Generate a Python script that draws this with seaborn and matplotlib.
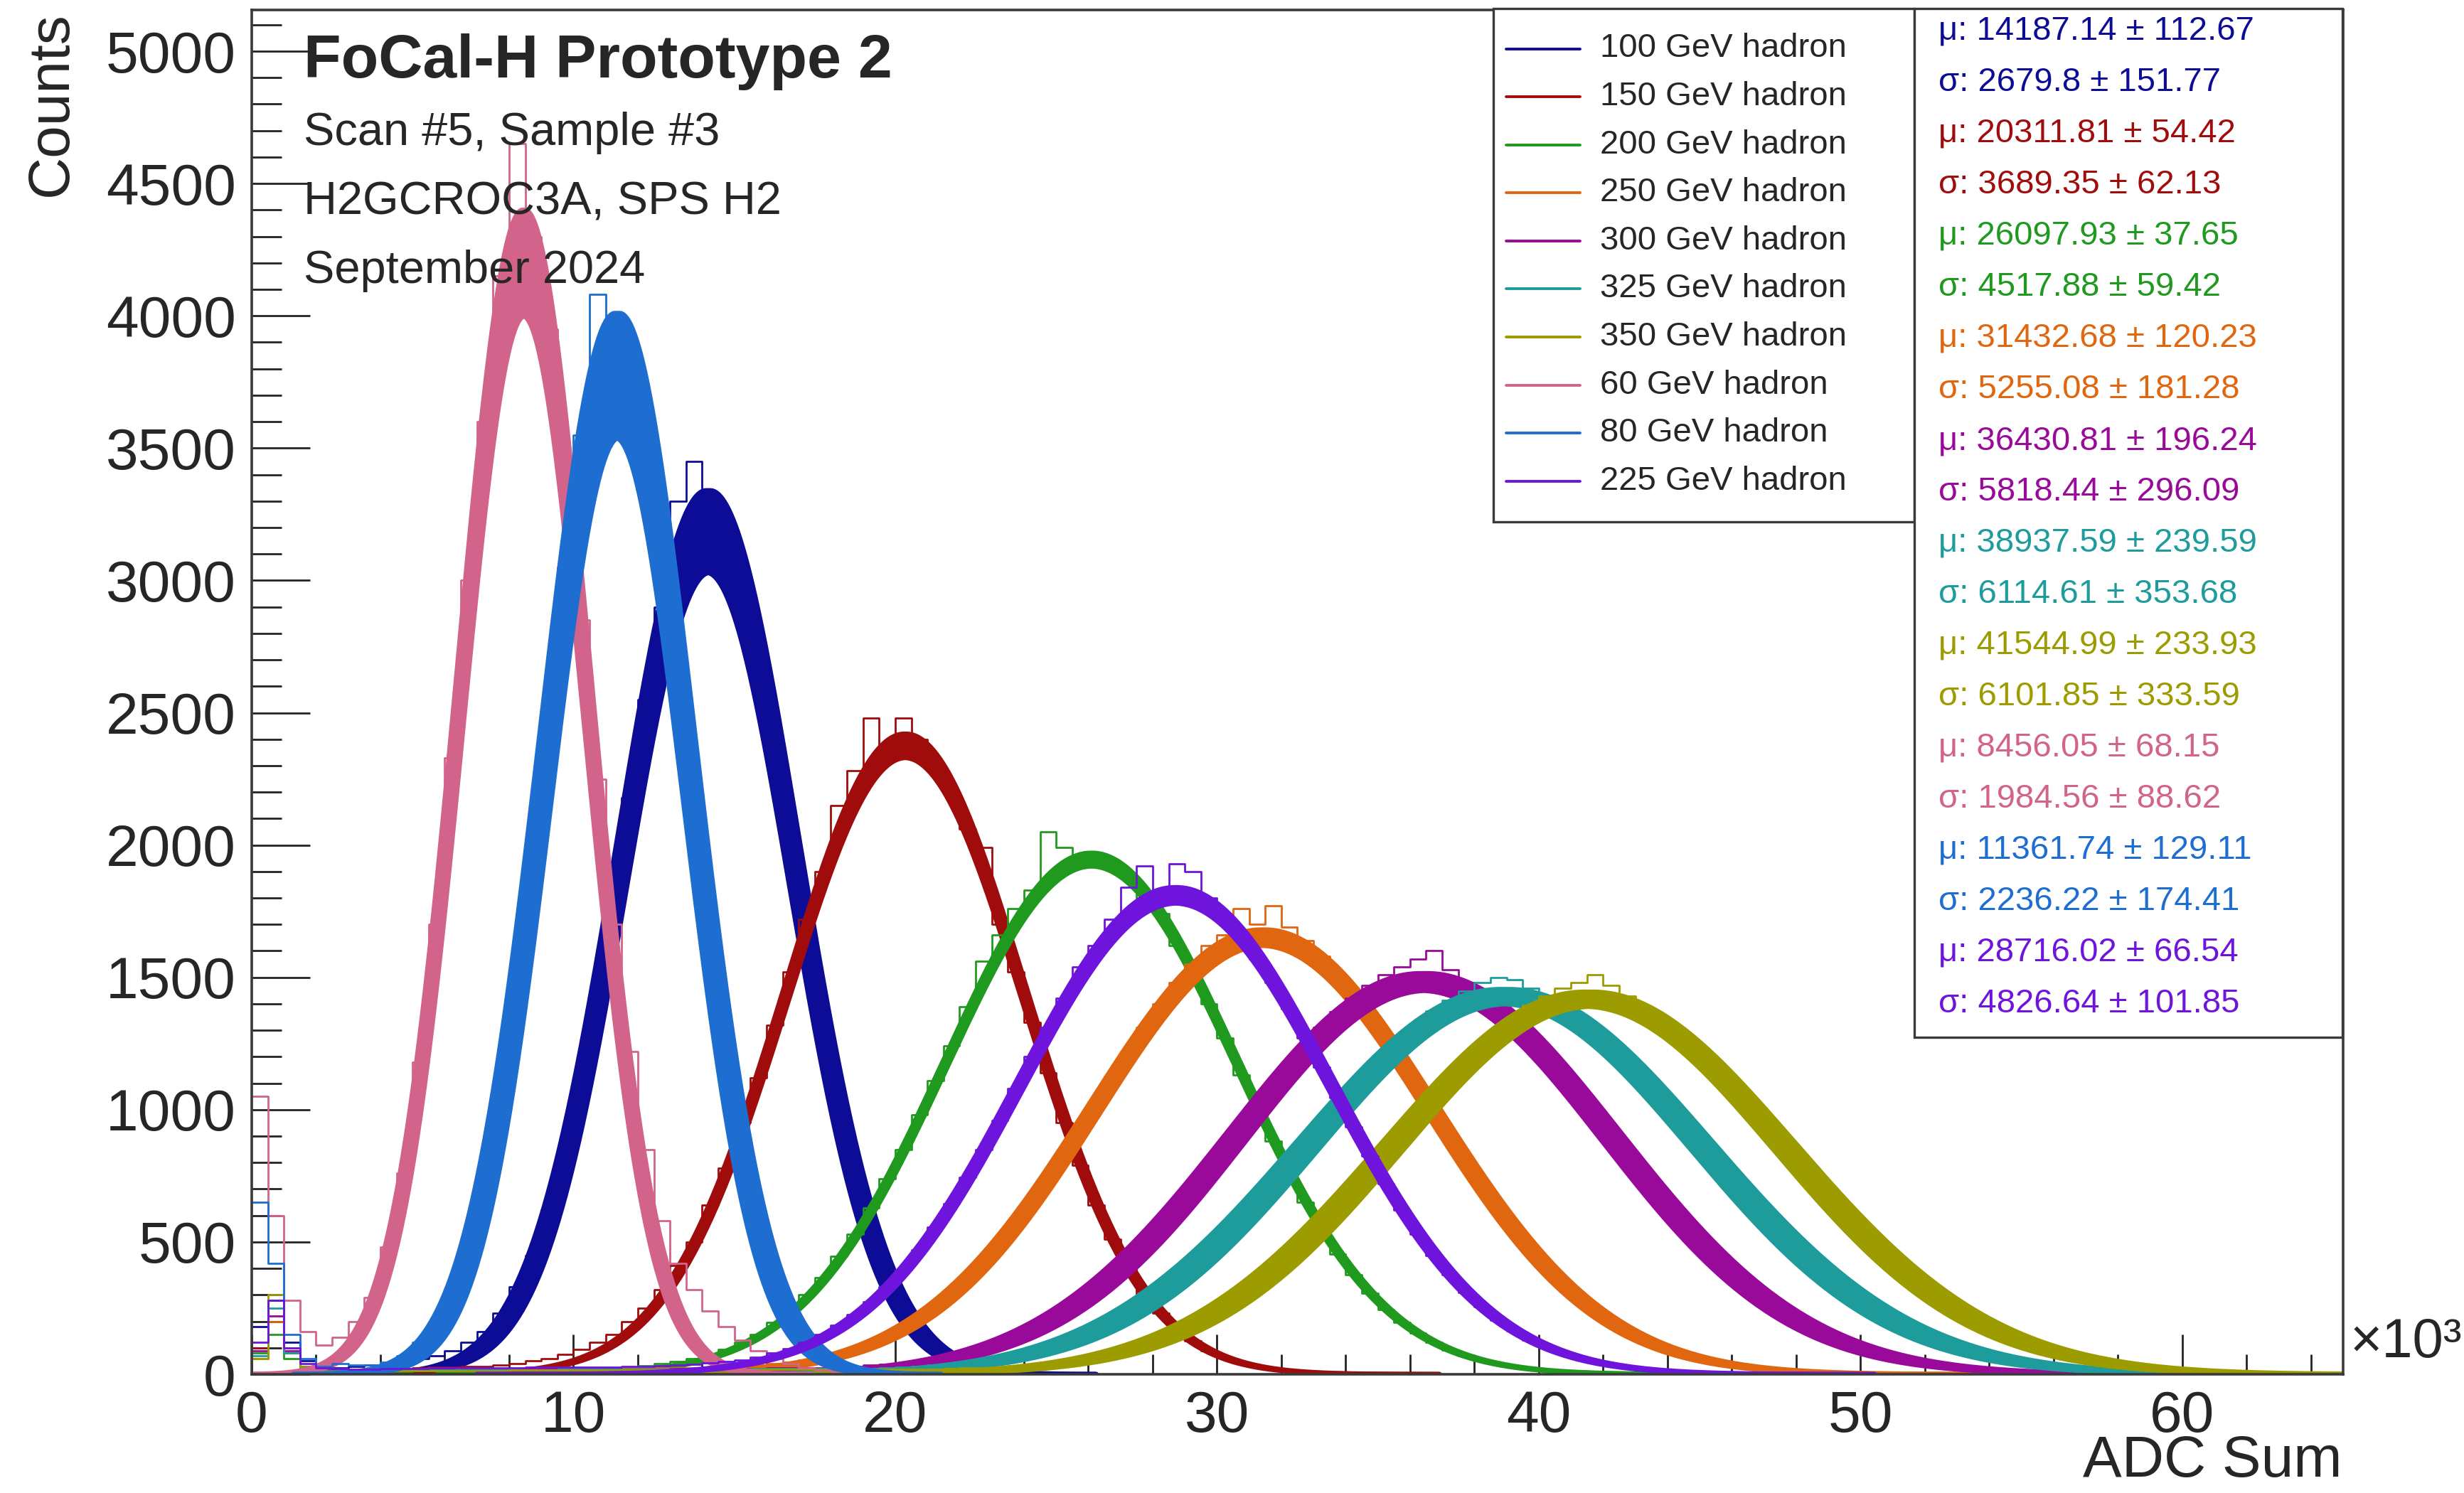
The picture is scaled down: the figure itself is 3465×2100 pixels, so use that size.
import numpy as np
import pandas as pd
import matplotlib
matplotlib.use("Agg")
import matplotlib.pyplot as plt
import seaborn as sns
from matplotlib.ticker import MultipleLocator, FuncFormatter
from matplotlib.lines import Line2D
from matplotlib.patches import Rectangle

# ---------------------------------------------------------------- data
BIN_WIDTH = 500.0
N_BINS = 130  # 0 .. 65000 ADC

labels = ["100 GeV hadron", "150 GeV hadron", "200 GeV hadron", "250 GeV hadron",
          "300 GeV hadron", "325 GeV hadron", "350 GeV hadron", "60 GeV hadron",
          "80 GeV hadron", "225 GeV hadron"]
colors = ["#0c0c96", "#a00c0c", "#1f9a1f", "#e0660f", "#9a0a9a",
          "#1e9c9c", "#9c9c00", "#d2648c", "#1e6ed2", "#6e14dc"]

mu = [14187.14, 20311.81, 26097.93, 31432.68, 36430.81,
      38937.59, 41544.99, 8456.05, 11361.74, 28716.02]
mu_err = [112.67, 54.42, 37.65, 120.23, 196.24,
          239.59, 233.93, 68.15, 129.11, 66.54]
sigma = [2679.8, 3689.35, 4517.88, 5255.08, 5818.44,
         6114.61, 6101.85, 1984.56, 2236.22, 4826.64]
sigma_err = [151.77, 62.13, 59.42, 181.28, 296.09,
             353.68, 333.59, 88.62, 174.41, 101.85]
# spread of the fitted peak heights (counts)
amp_low = [3030, 2330, 1920, 1620, 1450, 1400, 1390, 4000, 3540, 1780]
amp_high = [3340, 2420, 1970, 1680, 1515, 1455, 1445, 4400, 4010, 1840]

# histogram contents, 500-ADC bins starting at 0
h100 = [180, 280, 120, 50, 25, 25, 30, 35, 40, 50, 60, 70, 90, 120, 160, 230, 330, 450,
        620, 850, 1120, 1440, 1800, 2180, 2550, 2900, 3300, 3450, 3200, 3100, 2900, 2640,
        2330, 1990, 1620, 1280, 980, 730, 520, 360, 240, 150, 100, 60, 35, 20, 11, 6, 3]
h150 = [100, 200, 80, 30, 18, 15, 16, 18, 20, 22, 24, 26, 28, 30, 30, 35, 40, 50, 60, 75,
        95, 120, 150, 200, 250, 320, 410, 500, 640, 780, 950, 1120, 1320, 1520, 1720, 1900,
        2150, 2280, 2480, 2330, 2480, 2400, 2310, 2200, 2060, 1990, 1700, 1520, 1330, 1140,
        950, 790, 640, 510, 400, 300, 230, 170, 125, 90, 62, 44, 30, 20, 13, 8, 5, 3]
h200 = [80, 150, 60, 20, 12, 10, 10, 11, 12, 12, 13, 14, 14, 15, 15, 16, 17, 17, 18, 19,
        20, 22, 25, 28, 32, 40, 48, 60, 75, 95, 120, 150, 195, 240, 300, 365, 445, 530,
        630, 740, 850, 980, 1110, 1240, 1390, 1560, 1660, 1760, 1830, 2050, 1990, 1960,
        1950, 1920, 1880, 1800, 1740, 1620, 1520, 1400, 1270, 1130, 1010, 880, 760, 650,
        550, 455, 375, 305, 245, 195, 155, 120, 92, 70, 52, 38, 28, 20, 14, 10, 7, 5, 3]
h250 = [60, 200, 80, 30, 15, 14, 14, 15, 15, 16, 16, 17, 17, 18, 18, 19, 19, 20, 20, 21,
        21, 22, 22, 23, 23, 24, 24, 24, 25, 28, 30, 35, 40, 45, 55, 65, 80, 98, 120, 145,
        178, 215, 258, 308, 365, 430, 500, 575, 660, 745, 840, 935, 1030, 1125, 1220, 1310,
        1400, 1480, 1550, 1620, 1660, 1760, 1700, 1770, 1690, 1640, 1580, 1500, 1430, 1350,
        1265, 1175, 1080, 985, 890, 800, 710, 625, 545, 470, 400, 340, 285, 238, 196, 160,
        135, 110, 90, 72, 58, 45, 35, 27, 20, 14, 10, 7, 5, 3]
h300 = [90, 220, 90, 30, 15, 14, 14, 14, 15, 15, 15, 16, 16, 16, 17, 17, 17, 18, 18, 18,
        19, 19, 19, 20, 20, 20, 21, 21, 21, 22, 22, 22, 23, 23, 24, 25, 27, 30, 34, 38, 44,
        50, 60, 72, 85, 102, 122, 145, 172, 205, 240, 282, 328, 380, 435, 497, 562, 630,
        703, 778, 858, 936, 1015, 1092, 1170, 1240, 1310, 1370, 1420, 1470, 1510, 1540,
        1570, 1600, 1530, 1480, 1430, 1385, 1330, 1268, 1200, 1128, 1052, 975, 898, 822,
        745, 670, 598, 530, 468, 410, 355, 306, 262, 222, 188, 158, 132, 110, 90, 74, 60,
        48, 38, 30, 24, 18, 14, 10, 8, 6, 4, 3]
h325 = [70, 250, 80, 25, 14, 14, 14, 15, 15, 15, 15, 16, 16, 16, 16, 17, 17, 17, 17, 18,
        18, 18, 18, 19, 19, 19, 19, 20, 20, 20, 20, 21, 21, 21, 21, 22, 22, 22, 22, 24, 27,
        30, 34, 38, 44, 52, 62, 74, 88, 105, 125, 148, 174, 204, 238, 276, 318, 365, 418,
        472, 532, 595, 662, 730, 800, 872, 945, 1016, 1085, 1152, 1215, 1272, 1325, 1372,
        1412, 1448, 1480, 1500, 1490, 1460, 1420, 1385, 1345, 1300, 1245, 1185, 1120, 1052,
        982, 912, 840, 769, 699, 633, 567, 506, 448, 395, 345, 300, 258, 221, 188, 160,
        135, 112, 94, 78, 64, 52, 42, 34, 27, 21, 16, 12, 9, 7, 5, 4, 3]
h350 = [60, 300, 100, 30, 12, 12, 12, 12, 13, 13, 13, 13, 14, 14, 14, 14, 15, 15, 15, 15,
        16, 16, 16, 16, 17, 17, 17, 17, 18, 18, 18, 18, 19, 19, 19, 19, 20, 20, 20, 20, 20,
        20, 20, 21, 23, 25, 28, 31, 35, 41, 48, 58, 69, 83, 99, 118, 140, 165, 194, 227,
        264, 305, 350, 400, 454, 512, 573, 638, 705, 776, 846, 918, 990, 1060, 1126, 1190,
        1250, 1305, 1352, 1395, 1430, 1460, 1480, 1510, 1470, 1430, 1390, 1348, 1300, 1248,
        1190, 1128, 1062, 993, 922, 850, 779, 709, 642, 576, 514, 456, 402, 352, 306, 264,
        226, 193, 163, 138, 115, 95, 79, 65, 53, 43, 34, 27, 21, 17, 13, 10, 8, 6, 4, 3,
        2, 2, 1, 1]
h060 = [1050, 600, 280, 160, 110, 140, 200, 290, 480, 760, 1180, 1700, 2330, 3000, 3600,
        4150, 4650, 4300, 3950, 3450, 2850, 2250, 1700, 1220, 850, 580, 420, 320, 240,
        180, 130, 90, 60, 40, 25, 15, 10, 6, 4, 2]
h080 = [650, 420, 150, 60, 30, 40, 35, 35, 45, 70, 120, 190, 300, 470, 720, 1060, 1480,
        1980, 2520, 3050, 3550, 4080, 3950, 3800, 3550, 3150, 2650, 2150, 1650, 1180, 820,
        540, 350, 210, 120, 70, 40, 20, 12, 8, 5, 3]
h225 = [120, 280, 100, 40, 25, 22, 20, 20, 21, 22, 22, 23, 23, 24, 24, 25, 25, 26, 26, 27,
        27, 28, 28, 29, 30, 32, 35, 38, 42, 48, 55, 65, 80, 98, 120, 150, 185, 225, 275,
        330, 395, 470, 555, 645, 745, 850, 960, 1080, 1200, 1310, 1420, 1540, 1620, 1720,
        1840, 1920, 1820, 1930, 1900, 1800, 1730, 1660, 1570, 1480, 1380, 1270, 1160, 1045,
        935, 825, 720, 620, 530, 450, 375, 310, 255, 205, 165, 130, 102, 80, 62, 47, 36,
        27, 20, 14, 10, 7, 5, 3]

hists = [h100, h150, h200, h250, h300, h325, h350, h060, h080, h225]

# ---------------------------------------------------------------- style
sns.set_theme(style="ticks")
plt.rcParams["font.family"] = ["Liberation Sans", "DejaVu Sans"]
plt.rcParams["axes.linewidth"] = 1.3
plt.rcParams["axes.edgecolor"] = "#3a3a3a"

W, H = 3466, 2100
DPI = 200
fig = plt.figure(figsize=(W / DPI, H / DPI), dpi=DPI)
fig.patch.set_facecolor("white")

x0, x1, y0, y1 = 354, 3295, 14, 1933          # frame in pixels
ax = fig.add_axes([x0 / W, 1 - y1 / H, (x1 - x0) / W, (y1 - y0) / H])
ax.set_facecolor("white")

edges = np.arange(N_BINS + 1) * BIN_WIDTH
centers = edges[:-1] + BIN_WIDTH / 2
SPREAD = 0.55   # fraction of the parameter errors shown by the fit band


def gauss(x, a, m, s):
    return a * np.exp(-0.5 * ((x - m) / s) ** 2)


for i, lab in enumerate(labels):
    col = colors[i]
    counts = np.zeros(N_BINS)
    counts[:len(hists[i])] = hists[i]
    df = pd.DataFrame({"adc": centers, "n": counts})
    sns.histplot(data=df, x="adc", weights="n", binwidth=BIN_WIDTH,
                 binrange=(0, N_BINS * BIN_WIDTH), element="step",
                 fill=False, color=col, linewidth=1.0, ax=ax, zorder=2)

    # band of fitted gaussians
    lo_x = max(0.0, mu[i] - 4.5 * sigma[i])
    hi_x = min(65000.0, mu[i] + 4.5 * sigma[i])
    xs = np.linspace(lo_x, hi_x, 700)
    dm = SPREAD * mu_err[i]
    ds = SPREAD * sigma_err[i]
    curves = []
    for a in np.linspace(amp_low[i], amp_high[i], 3):
        for m in np.linspace(mu[i] - dm, mu[i] + dm, 5):
            for s in np.linspace(sigma[i] - ds, sigma[i] + ds, 5):
                curves.append(gauss(xs, a, m, s))
    curves = np.array(curves)
    upper = curves.max(axis=0)
    lower = curves.min(axis=0)
    ax.fill_between(xs, lower, upper, color=col, lw=0, zorder=2)
    sns.lineplot(x=xs, y=upper, color=col, lw=2.4, ax=ax, zorder=2, sort=False)
    sns.lineplot(x=xs, y=lower, color=col, lw=2.4, ax=ax, zorder=2, sort=False)

ax.set_xlim(0, 65000)
ax.set_ylim(0, 5156)
ax.set_xlabel("")
ax.set_ylabel("")
for sp in ax.spines.values():
    sp.set_visible(True)
    sp.set_color("#3a3a3a")

ax.xaxis.set_major_locator(MultipleLocator(10000))
ax.xaxis.set_minor_locator(MultipleLocator(2000))
ax.yaxis.set_major_locator(MultipleLocator(500))
ax.yaxis.set_minor_locator(MultipleLocator(100))
ax.xaxis.set_major_formatter(FuncFormatter(lambda v, p: f"{v / 1000:.0f}"))
ax.yaxis.set_major_formatter(FuncFormatter(lambda v, p: f"{v:.0f}"))
ax.tick_params(axis="x", which="major", direction="in", length=20, width=1.0,
               color="#222222", labelsize=29.5, pad=8, top=False)
ax.tick_params(axis="x", which="minor", direction="in", length=10, width=1.0,
               color="#222222", top=False)
ax.tick_params(axis="y", which="major", direction="in", length=29.5, width=1.0,
               color="#222222", labelsize=29.5, pad=8, right=False)
ax.tick_params(axis="y", which="minor", direction="in", length=15, width=1.0,
               color="#222222", right=False)

# ---------------------------------------------------------------- texts
def fx(px):
    return px / W


def fy(py):
    return 1 - py / H


fig.text(fx(3294), fy(2077), "ADC Sum", ha="right", va="baseline", fontsize=29.5)
fig.text(fx(73), fy(16), "Counts", ha="center", va="top", rotation=90, fontsize=29.5)
fig.text(fx(3305), fy(1888), "×10³", ha="left", va="center", fontsize=28)

fig.text(fx(427), fy(87), "FoCal-H Prototype 2", ha="left", va="center",
         fontsize=31, fontweight="bold", zorder=6)
for k, line in enumerate(["Scan #5, Sample #3", "H2GCROC3A, SPS H2", "September 2024"]):
    fig.text(fx(427), fy(187 + 97 * k), line, ha="left", va="center",
             fontsize=23.4, zorder=6)

# legend box
leg_l, leg_t, leg_r, leg_b = 2100, 12, 2692, 734
fig.patches.append(Rectangle((fx(leg_l), fy(leg_b)), fx(leg_r - leg_l),
                             (leg_b - leg_t) / H, transform=fig.transFigure,
                             facecolor="white", edgecolor="#3a3a3a", lw=1.2, zorder=5))
for i, lab in enumerate(labels):
    yy = 68.5 + 67.6 * i
    fig.lines.append(Line2D([fx(2118), fx(2222)], [fy(yy), fy(yy)],
                            transform=fig.transFigure, color=colors[i], lw=1.4, zorder=6))
    fig.text(fx(2250), fy(yy), lab, ha="left", va="center", fontsize=17, zorder=6)

# fit-parameter box
st_l, st_t, st_r, st_b = 2692, 12, 3294, 1459
fig.patches.append(Rectangle((fx(st_l), fy(st_b)), fx(st_r - st_l),
                             (st_b - st_t) / H, transform=fig.transFigure,
                             facecolor="white", edgecolor="#3a3a3a", lw=1.2, zorder=5))


def num(v):
    s = f"{v:.2f}"
    return s.rstrip("0").rstrip(".") if "." in s else s


for i in range(len(labels)):
    y_mu = 44 + 72.0 * (2 * i)
    y_sg = 44 + 72.0 * (2 * i + 1)
    fig.text(fx(2726), fy(y_mu), f"μ: {num(mu[i])} ± {num(mu_err[i])}",
             ha="left", va="center", fontsize=17, color=colors[i], zorder=6)
    fig.text(fx(2726), fy(y_sg), f"σ: {num(sigma[i])} ± {num(sigma_err[i])}",
             ha="left", va="center", fontsize=17, color=colors[i], zorder=6)

fig.savefig("out.png", dpi=DPI, facecolor="white")
